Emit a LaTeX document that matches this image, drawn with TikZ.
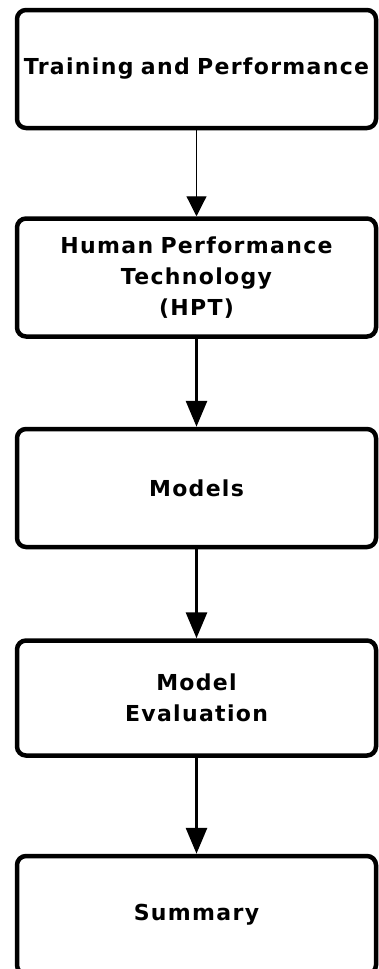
\documentclass[tikz,border=0pt]{standalone}
\usepackage{fontspec}
\setmainfont{DejaVu Sans}
\newfontfamily\boxfont[LetterSpace=6.0,WordSpace=1.3]{DejaVu Sans}
\usepackage{tikz}
\usetikzlibrary{positioning,arrows.meta}
\usepackage{xcolor}
\definecolor{InkBlack}{RGB}{0,0,0}

\begin{document}
\begin{tikzpicture}[
    stagebox/.style={rectangle, rounded corners=9pt, draw=InkBlack, line width=4.5pt,
        minimum width=359pt, minimum height=118pt, inner sep=0pt,
        font=\boxfont\bfseries\fontsize{22pt}{31pt}\selectfont,
        text width=355pt, align=center, text=InkBlack},
    thinarr/.style={-{Triangle[length=20pt,width=20pt]}, line width=1.2pt, InkBlack},
    flowarr/.style={-{Triangle[length=26pt,width=21pt]}, line width=3pt, InkBlack},
]
\useasboundingbox (0,0) rectangle (378pt,-969pt);
\node[stagebox] at (196.5pt,-69pt) (tp) {Training and Performance};
\node[stagebox, below=86pt of tp] (hpt) {Human Performance\\Technology\\(HPT)};
\node[stagebox, below=88pt of hpt] (mod) {Models};
\node[stagebox, below=89pt of mod, minimum height=115pt] (eval) {Model\\Evaluation};
\node[stagebox, below=96pt of eval, minimum height=118pt] (sum) {Summary};

\draw[thinarr] (tp) -- (hpt);
\draw[flowarr] (hpt) -- (mod);
\draw[flowarr] (mod) -- (eval);
\draw[flowarr] (eval) -- (sum);
\end{tikzpicture}
\end{document}
